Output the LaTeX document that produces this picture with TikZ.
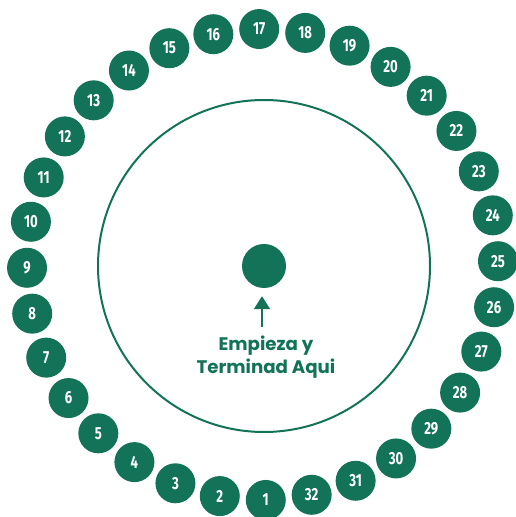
\documentclass[tikz,border=0pt]{standalone}
\usepackage{fontspec}
\setmainfont{Poppins}
\newfontfamily\numfont[FakeStretch=0.75]{Fira Sans}
\usetikzlibrary{arrows.meta}
\definecolor{verde}{RGB}{18,115,88}
\tikzset{
  casilla/.style={circle,fill=verde,minimum size=40pt,inner sep=0pt,text=white,font=\numfont\bfseries\fontsize{17.5}{17.5}\selectfont},
  flecha/.style={-{Triangle[length=13pt,width=16pt]},line width=2pt,draw=verde},
}
\begin{document}
\begin{tikzpicture}[x=1pt,y=1pt]
\useasboundingbox (0,0) rectangle (516,517);
\coordinate (C) at (262.5,252.5);
\draw[verde,line width=2pt] (264,251) circle (166pt);
\node[circle,fill=verde,minimum size=44pt,inner sep=0pt](inicio) at (264,251){};
% las 32 casillas
\foreach \k in {1,...,32}{
  \pgfmathsetmacro{\ang}{-89.2-(\k-1)*11.25}
  \node[casilla](n\k) at ([shift={(\ang:235.5)}]C){\k};
}
\node[text=verde,font=\bfseries\fontsize{18.2}{23.5}\selectfont,align=center,anchor=base](texto) at (266,143){Empieza y\\Terminad Aqui};
\coordinate (cola) at (262,190);
\draw[flecha,shorten >=8pt] (cola) -- (cola |- inicio.south);
\end{tikzpicture}
\end{document}
